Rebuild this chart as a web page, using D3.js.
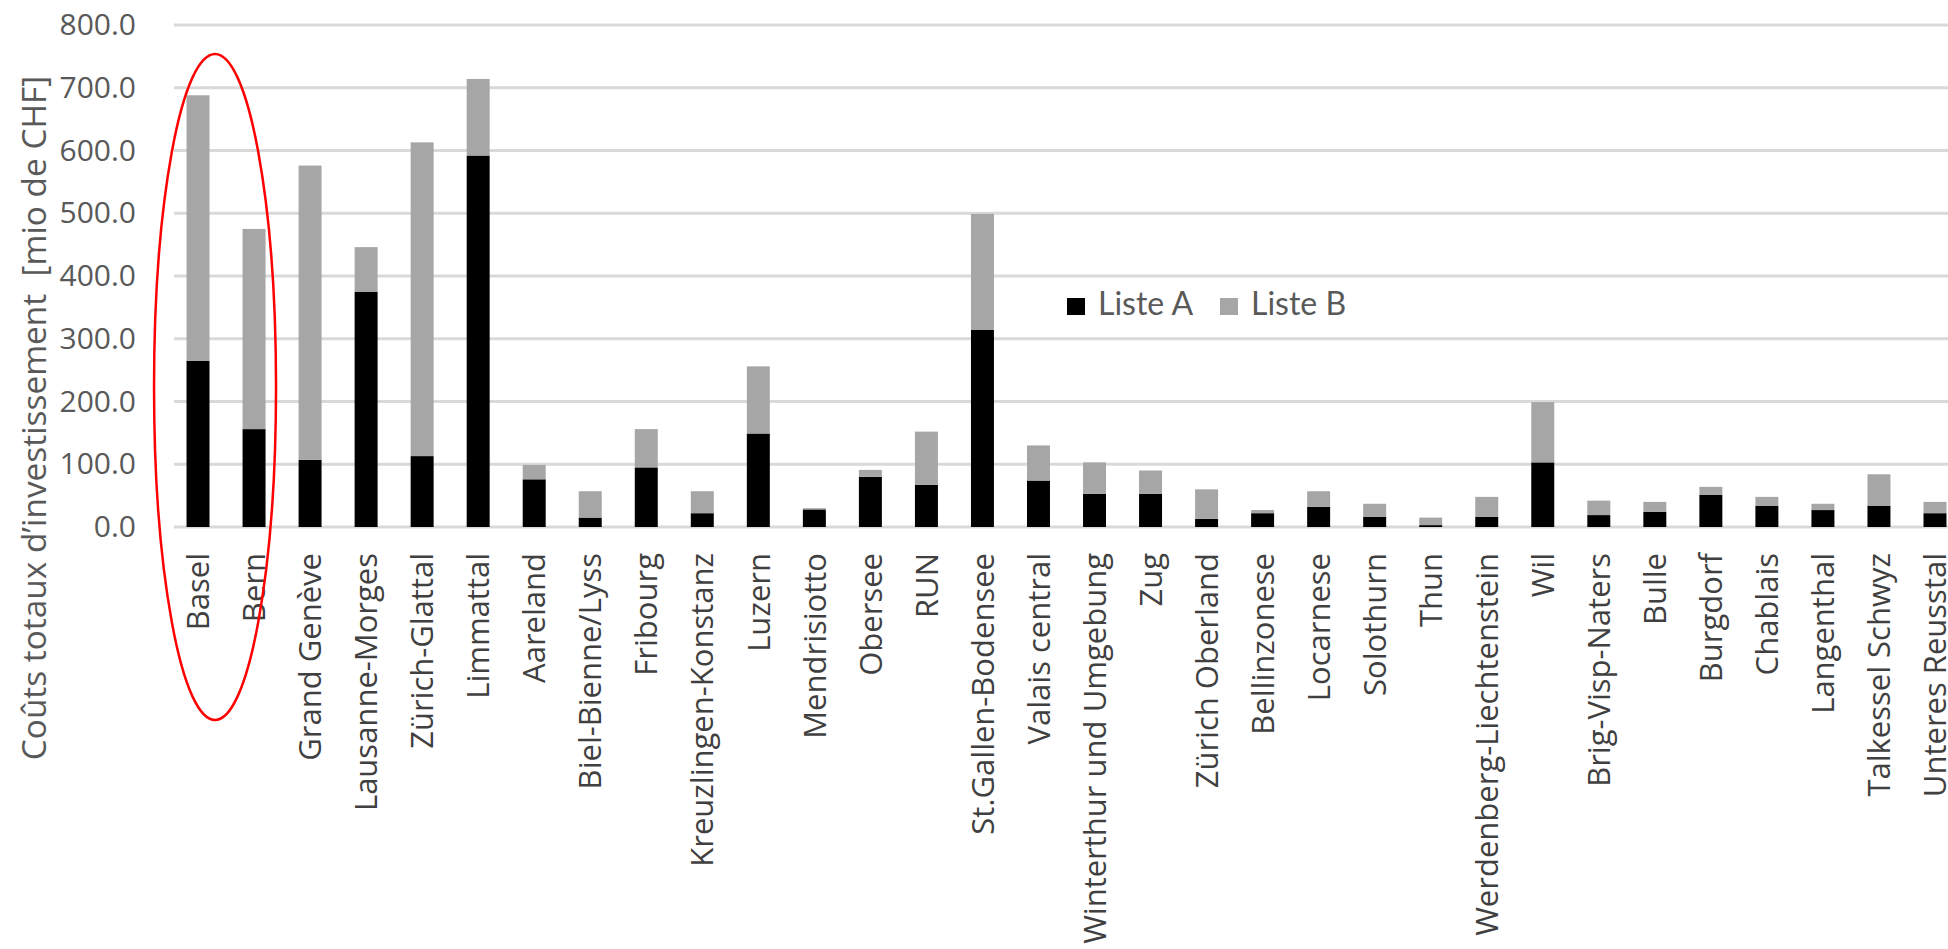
<!DOCTYPE html>
<html><head><meta charset="utf-8">
<script src="https://cdn.jsdelivr.net/npm/d3@7"></script>
<style>body{margin:0;background:#fff;overflow:hidden}</style>
</head><body>
<svg id="chart" width="1948" height="949"></svg>
<script>
const categories = ["Basel","Bern","Grand Genève","Lausanne-Morges","Zürich-Glattal","Limmattal","Aareland","Biel-Bienne/Lyss","Fribourg","Kreuzlingen-Konstanz","Luzern","Mendrisiotto","Obersee","RUN","St.Gallen-Bodensee","Valais central","Winterthur und Umgebung","Zug","Zürich Oberland","Bellinzonese","Locarnese","Solothurn","Thun","Werdenberg-Liechtenstein","Wil","Brig-Visp-Naters","Bulle","Burgdorf","Chablais","Langenthal","Talkessel Schwyz","Unteres Reusstal"];
const listeA = [265,156,107,375,113,592,76,15,95,22,149,28,80,67,314,74,53,53,13,22,32,16,3,16,103,19,24,51,34,27,34,22];
const listeB = [423,319,469,71,500,122,23,42,61,35,107,2,11,85,185,56,50,37,47,5,25,21,12,32,96,23,16,13,14,10,50,18];
const yTicks = [0,100,200,300,400,500,600,700,800];
const seriesNames = ["Liste A","Liste B"];
const seriesColors = ["#000000","#a6a6a6"];
const yTitle = "Coûts totaux d’investissement\u00a0\u00a0[mio de CHF]";
const highlighted = ["Basel","Bern"];

const svg = d3.select("#chart");
const x = d3.scaleBand().domain(categories).range([170, 1963]).paddingInner(0.59).paddingOuter(0.295);
const y = d3.scaleLinear().domain([0, 800]).range([527, 25]);

// gridlines
svg.append("g").selectAll("line").data(yTicks).join("line")
  .attr("x1", 174).attr("x2", 1948)
  .attr("y1", d => y(d)).attr("y2", d => y(d))
  .attr("stroke", "#d9d9d9").attr("stroke-width", 3);

// y tick labels
const yAxis = d3.axisLeft(y).tickValues(yTicks).tickFormat(d3.format(".1f")).tickSize(0).tickPadding(0);
const gy = svg.append("g").attr("transform", "translate(136,0)").call(yAxis);
gy.select(".domain").remove();
gy.selectAll("text").attr("font-family", "'Open Sans'").attr("font-size", 30).attr("fill", "#595959");

// stacked bars
const rows = categories.map((c, i) => ({cat: c, "Liste A": listeA[i], "Liste B": listeB[i]}));
const stack = d3.stack().keys(seriesNames)(rows);
svg.append("g").selectAll("g").data(stack).join("g")
  .attr("fill", (d, i) => seriesColors[i])
  .selectAll("rect").data(d => d).join("rect")
  .attr("x", d => x(d.data.cat))
  .attr("width", x.bandwidth())
  .attr("y", d => y(d[1]))
  .attr("height", d => y(d[0]) - y(d[1]));

// x category labels
const xAxis = d3.axisBottom(x).tickSize(0).tickPadding(0);
const gx = svg.append("g").attr("transform", "translate(0,553)").call(xAxis);
gx.select(".domain").remove();
gx.selectAll("text")
  .attr("font-family", "'Open Sans'").attr("font-size", 31).attr("fill", "#404040")
  .attr("transform", "rotate(-90)")
  .attr("text-anchor", "end")
  .attr("x", 0).attr("y", 0).attr("dy", "0.36em");

// y title
svg.append("text")
  .attr("transform", "translate(46,418) rotate(-90)")
  .attr("text-anchor", "middle")
  .attr("font-family", "'Open Sans'").attr("font-size", 33.4).attr("fill", "#595959")
  .text(yTitle);

// legend
const legend = svg.append("g").attr("transform", "translate(1067,298)");
const lx = [0, 153];
seriesNames.forEach((s, i) => {
  legend.append("rect").attr("x", lx[i]).attr("y", 0).attr("width", 18).attr("height", 17).attr("fill", seriesColors[i]);
  legend.append("text").attr("x", lx[i] + 31).attr("y", 17)
    .attr("font-family", "Lato").attr("font-size", 32).attr("fill", "#595959").text(s);
});

// highlight ellipse around first two categories
const hx0 = x(highlighted[0]), hx1 = x(highlighted[1]) + x.bandwidth();
svg.append("ellipse")
  .attr("cx", (hx0 + hx1) / 2 - 11)
  .attr("cy", 387)
  .attr("rx", 61).attr("ry", 333)
  .attr("fill", "none").attr("stroke", "#ff0000").attr("stroke-width", 2.5);
</script>
</body></html>
